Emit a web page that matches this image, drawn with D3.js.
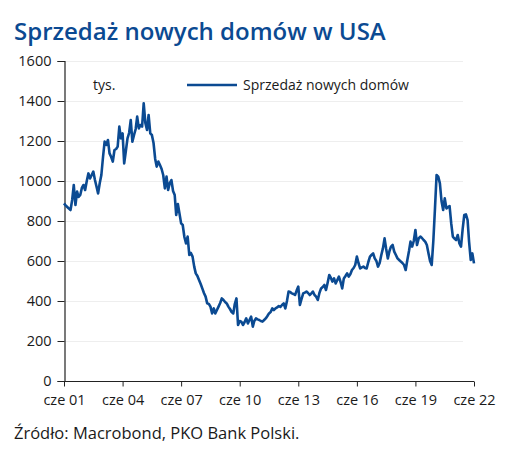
<!DOCTYPE html>
<html><head><meta charset="utf-8">
<script src="https://cdn.jsdelivr.net/npm/d3@7"></script>
<style>body{margin:0;background:#fff}svg{display:block}</style>
</head><body>
<script>
const startDate = "2001-06";
const sales = [
888,878,870,862,855,905,980,880,947,920,930,965,
980,955,1000,1038,1013,1030,1047,1005,970,938,990,1030,
1120,1197,1180,1205,1138,1120,1097,1155,1160,1172,1272,1213,
1238,1088,1150,1213,1240,1305,1197,1230,1260,1322,1263,1280,
1272,1388,1290,1255,1330,1238,1230,1190,1110,1072,1097,1080,
1060,1030,963,1022,955,990,1005,950,930,830,885,838,
788,780,720,688,722,630,640,622,572,538,525,505,
485,463,440,422,388,385,372,338,363,338,355,372,
390,413,405,395,388,372,360,345,338,385,413,280,
300,297,280,295,313,288,305,322,272,300,313,308,
305,300,297,305,313,325,338,345,363,355,363,368,
375,370,380,388,363,400,447,445,438,435,430,452,
472,380,410,438,442,447,440,430,438,447,430,422,
405,440,463,470,480,455,490,530,515,497,513,488,
505,522,495,463,513,525,538,522,535,555,565,580,
622,590,563,568,572,565,563,595,622,630,638,613,
600,572,590,630,663,713,660,613,650,672,680,647,
630,613,605,597,590,580,555,605,650,697,672,700,
755,680,713,722,715,705,697,680,638,600,580,700,
863,1030,1022,988,900,855,913,863,870,875,788,722,
712,705,730,688,672,760,830,833,805,697,605,638,
588];
const yTicks = [0,200,400,600,800,1000,1200,1400,1600];
const xTickLabels = ["cze 01","cze 04","cze 07","cze 10","cze 13","cze 16","cze 19","cze 22"];
const xTickYears = [2001,2004,2007,2010,2013,2016,2019,2022];
const title = "Sprzedaż nowych domów w USA";
const unitLabel = "tys.";
const seriesName = "Sprzedaż nowych domów";
const sourceText = "Źródło: Macrobond, PKO Bank Polski.";

const W=512,H=463;
const blue="#0b4a92";
const font="'Open Sans', sans-serif";
const svg=d3.select("body").append("svg").attr("width",W).attr("height",H);
const [sy,sm]=startDate.split("-").map(Number);
const data=sales.map((v,i)=>({d:new Date(sy,sm-1+i,1),v}));
const x=d3.scaleTime().domain([new Date(2001,5,1),new Date(2022,5,1)]).range([64,474]);
const y=d3.scaleLinear().domain([0,1600]).range([381,61]);

svg.append("text").attr("x",14).attr("y",40).text(title)
  .attr("font-family",font).attr("font-weight",600).attr("font-size",24).attr("fill",blue);

// gridlines
svg.append("g").selectAll("line").data(yTicks.filter(t=>t>0)).join("line")
  .attr("x1",64).attr("x2",463).attr("y1",d=>y(d)+0.5).attr("y2",d=>y(d)+0.5)
  .attr("stroke","#eeeeee").attr("stroke-width",1);

const yAxis=svg.append("g").attr("transform","translate(64.5,0)")
  .call(d3.axisLeft(y).tickValues(yTicks).tickSize(7).tickPadding(6).tickFormat(d3.format("d")));
const xAxis=svg.append("g").attr("transform","translate(0,381.5)")
  .call(d3.axisBottom(x).tickValues(xTickYears.map(yy=>new Date(yy,5,1))).tickSize(5).tickPadding(8)
    .tickFormat((d,i)=>xTickLabels[i]));
[yAxis,xAxis].forEach(a=>{
  a.select(".domain").attr("stroke","#222").attr("stroke-width",1.2);
  a.selectAll(".tick line").attr("stroke","#222");
  a.selectAll("text").attr("font-family",font).attr("font-size",14.5).attr("fill","#1a1a1a");
});
xAxis.select(".domain").attr("d","M64,0H474");

svg.append("path").datum(data)
  .attr("d",d3.line().x(d=>x(d.d)).y(d=>y(d.v)))
  .attr("fill","none").attr("stroke",blue).attr("stroke-width",2.6).attr("stroke-linejoin","round");

svg.append("text").attr("x",93).attr("y",90).text(unitLabel)
  .attr("font-family",font).attr("font-size",14).attr("fill","#1a1a1a");
svg.append("line").attr("x1",187).attr("x2",237).attr("y1",85).attr("y2",85)
  .attr("stroke",blue).attr("stroke-width",2.6);
svg.append("text").attr("x",243).attr("y",90).text(seriesName)
  .attr("font-family",font).attr("font-size",14).attr("fill","#1a1a1a");

svg.append("text").attr("x",14).attr("y",439).text(sourceText)
  .attr("font-family",font).attr("font-size",16.5).attr("fill","#1a1a1a");
</script>
</body></html>
